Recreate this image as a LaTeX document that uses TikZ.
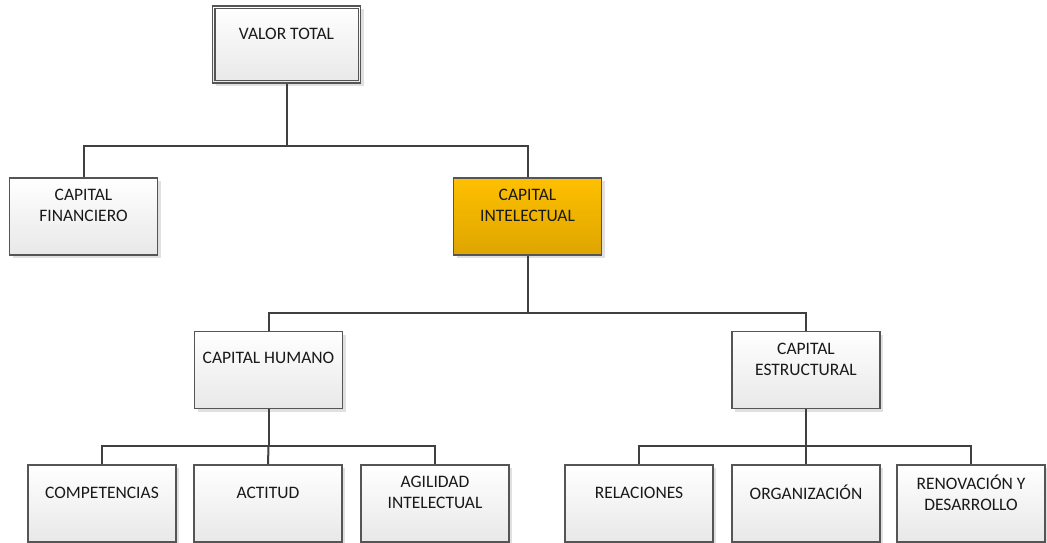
\documentclass[tikz,border=0pt]{standalone}
\usepackage{fontspec}
\setmainfont{Carlito}
\usetikzlibrary{shadows,calc}
\definecolor{edge}{HTML}{404040}
\definecolor{boxline}{HTML}{555555}
\definecolor{ylwtop}{HTML}{FFC000}
\definecolor{ylwbot}{HTML}{DDA500}
\begin{document}
\begin{tikzpicture}[
 x=1pt,y=-1pt,
 box/.style={rectangle, draw=boxline, line width=1.1pt, minimum width=148pt, minimum height=77pt, inner sep=0pt,
   top color=white, bottom color=black!9,
   drop shadow={shadow xshift=3pt,shadow yshift=-3pt,fill=black!12,opacity=1}},
 hot/.style={box, top color=ylwtop, bottom color=ylwbot},
 lbl/.style={font=\fontsize{17.5}{21}\selectfont, align=center, text=black!90, inner sep=0pt},
 wire/.style={draw=edge, line width=2pt}
]
\useasboundingbox (0,0) rectangle (1047,543);

% boxes
\node[box] (vt) at (286.5,44.5) {};
\draw[boxline, line width=1.1pt] ([shift={(3,3)}]vt.north west) rectangle ([shift={(-3,-3)}]vt.south east);
\node[box] (cf) at (83.5,216.5) {};
\node[hot] (ci) at (527.5,216.5) {};
\node[box] (ch) at (268.5,370) {};
\node[box] (ce) at (806,370) {};
\node[box] (co) at (102,503.5) {};
\node[box] (ac) at (268,503.5) {};
\node[box] (ag) at (435,503.5) {};
\node[box] (re) at (639,503.5) {};
\node[box] (or) at (806,503.5) {};
\node[box] (rd) at (971,503.5) {};

% labels
\node[lbl] (tvt) at ([yshift=-28pt]vt.north) {VALOR TOTAL};
\node[lbl] (tcf) at ([yshift=-28pt]cf.north) {CAPITAL\\FINANCIERO};
\node[lbl] (tci) at ([yshift=-28pt]ci.north) {CAPITAL\\INTELECTUAL};
\node[lbl] (tch) at ([yshift=-27pt]ch.north) {CAPITAL HUMANO};
\node[lbl] (tce) at ([yshift=-28pt]ce.north) {CAPITAL\\ESTRUCTURAL};
\node[lbl] (tco) at ([yshift=-28pt]co.north) {COMPETENCIAS};
\node[lbl] (tac) at ([yshift=-28pt]ac.north) {ACTITUD};
\node[lbl] (tag) at ([yshift=-28pt]ag.north) {AGILIDAD\\INTELECTUAL};
\node[lbl] (tre) at ([yshift=-28pt]re.north) {RELACIONES};
\node[lbl] (tor) at ([yshift=-28pt]or.north) {ORGANIZACIÓN};
\node[lbl] (trd) at ([yshift=-28pt]rd.north) {RENOVACIÓN Y\\DESARROLLO};

% junctions
\coordinate (j1) at (286.5,146);
\coordinate (j2) at (527.5,313);
\coordinate (j3) at (268.5,446);
\coordinate (j4) at (806,446);

% connectors
\draw[wire] (vt.south) -- (j1);
\draw[wire] (j1) -| (cf.north);
\draw[wire] (j1) -| (ci.north);
\draw[wire] (ci.south) -- (j2);
\draw[wire] (j2) -| (ch.north);
\draw[wire] (j2) -| (ce.north);
\draw[wire] (ch.south) -- (j3);
\draw[wire] (j3) -| (co.north);
\draw[wire] (j3) -- (ac.north);
\draw[wire] (j3) -| (ag.north);
\draw[wire] (ce.south) -- (j4);
\draw[wire] (j4) -| (re.north);
\draw[wire] (j4) -- (or.north);
\draw[wire] (j4) -| (rd.north);
\end{tikzpicture}
\end{document}
